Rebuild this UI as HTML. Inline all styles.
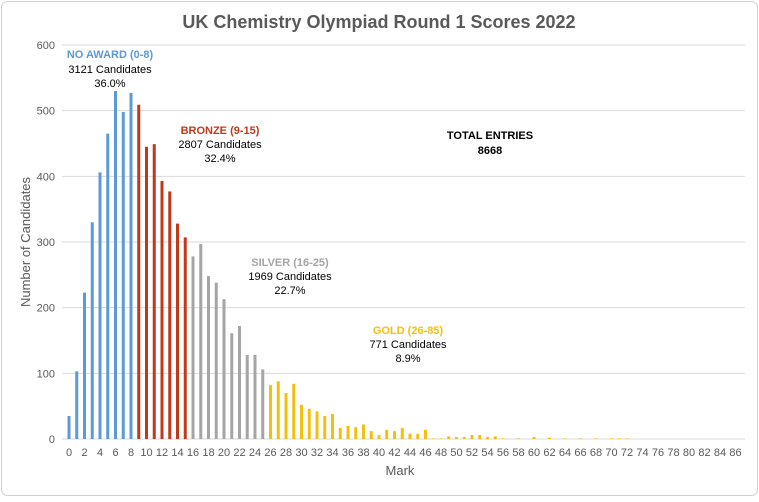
<!DOCTYPE html>
<html><head><meta charset="utf-8"><style>body{margin:0;background:#fff}</style></head><body>
<svg width="759" height="497" xmlns="http://www.w3.org/2000/svg" font-family="Liberation Sans, sans-serif">
<rect x="1.5" y="1.5" width="756" height="494" rx="6" fill="#fff" stroke="#d0d0d0"/>
<text x="379" y="28" text-anchor="middle" font-size="18" font-weight="bold" fill="#595959">UK Chemistry Olympiad Round 1 Scores 2022</text>
<g id="grid" stroke="#d9d9d9" stroke-width="1"></g>
<g id="bars"></g>
<g id="lab" font-size="11" fill="#595959"></g>
<text x="400" y="475" text-anchor="middle" font-size="13" fill="#595959">Mark</text>
<text transform="translate(30,242) rotate(-90)" text-anchor="middle" font-size="13" fill="#595959">Number of Candidates</text>
<g font-size="11" text-anchor="middle">
<text x="110" y="58" font-weight="bold" fill="#5b9bd5">NO AWARD (0-8)</text>
<text x="110" y="73" fill="#000">3121 Candidates</text>
<text x="110" y="87" fill="#000">36.0%</text>
<text x="220" y="134" font-weight="bold" fill="#c0391b">BRONZE (9-15)</text>
<text x="220" y="148" fill="#000">2807 Candidates</text>
<text x="220" y="162" fill="#000">32.4%</text>
<text x="290" y="266" font-weight="bold" fill="#a5a5a5">SILVER (16-25)</text>
<text x="290" y="280" fill="#000">1969 Candidates</text>
<text x="290" y="294" fill="#000">22.7%</text>
<text x="408" y="334" font-weight="bold" fill="#f2c010">GOLD (26-85)</text>
<text x="408" y="348" fill="#000">771 Candidates</text>
<text x="408" y="362" fill="#000">8.9%</text>
<text x="490" y="139" font-weight="bold" fill="#000">TOTAL ENTRIES</text>
<text x="490" y="154" font-weight="bold" fill="#000">8668</text>
</g>
<script>
var v=[35,103,223,330,406,465,530,498,527,509,445,449,393,377,328,307,278,297,248,238,213,161,172,128,128,106,82,88,70,84,52,46,42,35,38,17,20,18,22,12,6,14,12,17,8,8,14,1,1,4,3,3,6,6,3,4,1,0,1,0,3,0,2,0,1,0,1,0,1,0,1,1,1,0,0,0,0,0,0,0,0,0,0,0,0,0,0];
var ns="http://www.w3.org/2000/svg";
var g=document.getElementById('grid'),b=document.getElementById('bars'),l=document.getElementById('lab');
function el(p,t,a,txt){var e=document.createElementNS(ns,t);for(var k in a)e.setAttribute(k,a[k]);if(txt!=null)e.textContent=txt;p.appendChild(e);}
for(var i=0;i<=6;i++){var y=439-65.67*i;el(g,'line',{x1:62,x2:745,y1:y,y2:y});el(l,'text',{x:55,y:y+4,'text-anchor':'end'},i*100);}
for(var m=0;m<=86;m++){var x=69+7.75*m,h=v[m]*0.6567;var c=m<=8?'#5b9bd5':m<=15?'#c0391b':m<=25?'#a5a5a5':'#f2c010';
if(h>0)el(b,'rect',{x:x-1.5,y:439-h,width:3,height:h,fill:c});
if(m%2==0)el(l,'text',{x:x,y:456,'text-anchor':'middle'},m);}
</script>
</svg>
</body></html>
